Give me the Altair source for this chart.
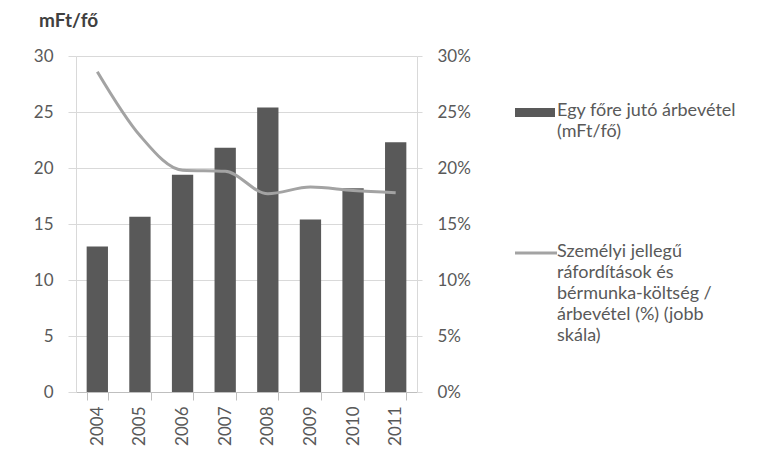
import altair as alt
import pandas as pd

years = ["2004", "2005", "2006", "2007", "2008", "2009", "2010", "2011"]
revenue_per_person = [13.0, 15.65, 19.4, 21.8, 25.4, 15.4, 18.2, 22.3]
personnel_cost_ratio = [0.286, 0.229, 0.198, 0.197, 0.177, 0.183, 0.180, 0.178]
left_ticks = [0, 5, 10, 15, 20, 25, 30]
right_ticks = [0, 0.05, 0.10, 0.15, 0.20, 0.25, 0.30]
unit_title = "mFt/fő"
bar_legend = "Egy főre jutó árbevétel\n(mFt/fő)"
line_legend = "Személyi jellegű\nráfordítások és\nbérmunka-költség /\nárbevétel (%) (jobb\nskála)"

df = pd.DataFrame({"year": years, "rev": revenue_per_person, "ratio": personnel_cost_ratio})

FONT = "Lato"
FS = 17
LEG_FS = 18
LABEL_COLOR = "#595959"
BAR_COLOR = "#595959"
LINE_COLOR = "#a3a3a3"
GRID = "#d9d9d9"

W, H = 341, 336
PAD_L, PAD_T = 76, 56

x_enc = alt.X(
    "year:N", sort=years, title=None,
    scale=alt.Scale(paddingInner=0.5, paddingOuter=0.25),
    axis=alt.Axis(labelAngle=270, tickBand="extent", tickSize=8, labelPadding=6,
                  domainColor="#bfbfbf", tickColor="#bfbfbf", grid=False,
                  labelFont=FONT, labelFontSize=FS, labelColor=LABEL_COLOR),
)

bars = alt.Chart(df).mark_bar(color=BAR_COLOR).encode(
    x=x_enc,
    y=alt.Y("rev:Q", title=None, scale=alt.Scale(domain=[0, 30], nice=False),
            axis=alt.Axis(orient="left", values=left_ticks, grid=True, gridColor=GRID,
                          domainColor=GRID, tickColor=GRID, tickSize=8, labelPadding=15,
                          labelFont=FONT, labelFontSize=FS, labelColor=LABEL_COLOR)),
)

line = alt.Chart(df).mark_line(color=LINE_COLOR, strokeWidth=3, interpolate="monotone").encode(
    x=x_enc,
    y=alt.Y("ratio:Q", title=None, scale=alt.Scale(domain=[0, 0.3], nice=False),
            axis=alt.Axis(orient="right", values=right_ticks, format=".0%", grid=False,
                          domainColor=GRID, tickColor=GRID, tickSize=5, labelPadding=15,
                          labelFont=FONT, labelFontSize=FS, labelColor=LABEL_COLOR)),
)

one = pd.DataFrame({"t": [0]})

title_txt = alt.Chart(pd.DataFrame({"t": [unit_title]})).mark_text(
    align="left", baseline="middle", font=FONT, fontSize=19, fontWeight="bold", color="#404040"
).encode(text="t:N", x=alt.value(-37), y=alt.value(-35))

leg_bar_sw = alt.Chart(one).mark_rect(color=BAR_COLOR).encode(
    x=alt.value(439), x2=alt.value(479), y=alt.value(52), y2=alt.value(61))
leg_bar_txt = alt.Chart(pd.DataFrame({"t": [bar_legend]})).mark_text(
    align="left", baseline="top", lineBreak="\n", lineHeight=21,
    font=FONT, fontSize=LEG_FS, color=LABEL_COLOR
).encode(text="t:N", x=alt.value(481), y=alt.value(46))

leg_line_sw = alt.Chart(one).mark_rule(color=LINE_COLOR, strokeWidth=3).encode(
    x=alt.value(439), x2=alt.value(481), y=alt.value(197))
leg_line_txt = alt.Chart(pd.DataFrame({"t": [line_legend]})).mark_text(
    align="left", baseline="top", lineBreak="\n", lineHeight=21,
    font=FONT, fontSize=LEG_FS, color=LABEL_COLOR
).encode(text="t:N", x=alt.value(481), y=alt.value(187))

main = alt.layer(bars, line).resolve_scale(y="independent")

chart = alt.layer(
    main, title_txt, leg_bar_sw, leg_bar_txt, leg_line_sw, leg_line_txt
).resolve_scale(y="independent").properties(
    width=W, height=H,
    autosize=alt.AutoSizeParams(type="none"),
    padding={"left": PAD_L, "top": PAD_T, "right": 759 - PAD_L - W, "bottom": 454 - PAD_T - H},
    background="white",
).configure_view(stroke=None)

chart.save("out.html", embed_options={"renderer": "svg", "actions": False})
